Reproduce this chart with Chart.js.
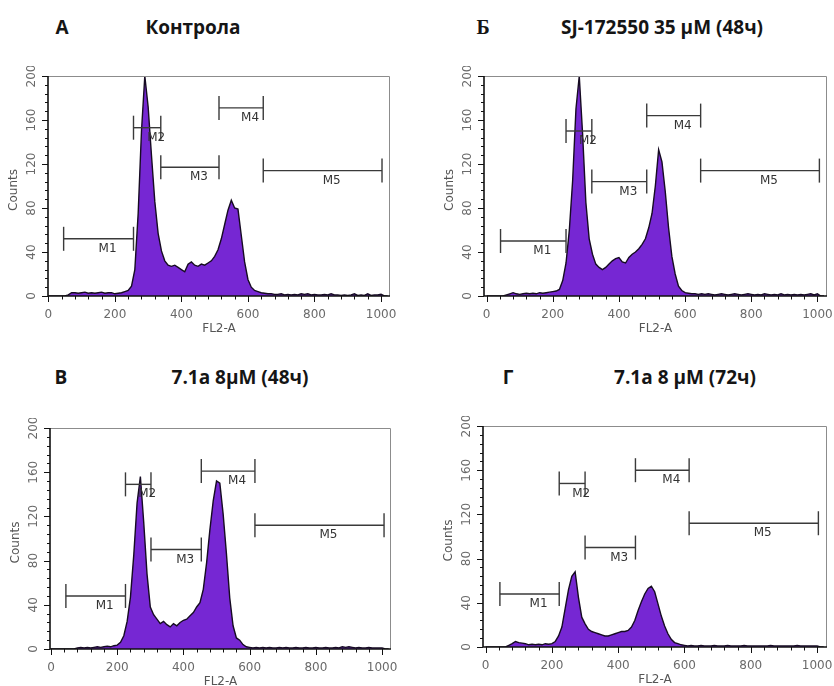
<!DOCTYPE html>
<html><head><meta charset="utf-8">
<script src="https://cdn.jsdelivr.net/npm/chart.js@4.4.0/dist/chart.umd.min.js"></script>
<style>
html,body{margin:0;padding:0;background:#fff;width:834px;height:686px;overflow:hidden;}
body{position:relative;}
canvas{position:absolute;}
.t{position:absolute;font-family:"Open Sans",sans-serif;font-weight:700;font-size:19px;color:#151515;transform:translate(-50%,-50%);white-space:nowrap;line-height:1;}
.serif{font-family:"Liberation Serif",serif;font-size:20px;}
</style></head><body>
<div class="t" style="left:62px;top:27px">А</div>
<div class="t" style="left:193px;top:27px">Контрола</div>
<div class="t serif" style="left:483px;top:27px">Б</div>
<div class="t" style="left:662px;top:27px">SJ-172550 35 μM (48ч)</div>
<div class="t" style="left:61px;top:377px">В</div>
<div class="t" style="left:240px;top:377px">7.1a 8μM (48ч)</div>
<div class="t" style="left:508px;top:377px">Г</div>
<div class="t" style="left:685px;top:377px">7.1a 8 μM (72ч)</div>
<canvas id="cA"></canvas><canvas id="cB"></canvas><canvas id="cC"></canvas><canvas id="cD"></canvas>
<script>
// FL2-A channels (x values)
const channels = [0,10,20,30,40,50,60,70,80,90,100,110,120,130,140,150,160,170,180,190,200,210,220,230,240,250,260,270,280,290,300,310,320,330,340,350,360,370,380,390,400,410,420,430,440,450,460,470,480,490,500,510,520,530,540,550,560,570,580,590,600,610,620,630,640,650,660,670,680,690,700,710,720,730,740,750,760,770,780,790,800,810,820,830,840,850,860,870,880,890,900,910,920,930,940,950,960,970,980,990,1000,1010,1020];

// Counts per panel
const countsA = [0,0,0,0,0,0,1,3,3,2.5,
 3,3.5,2.5,3,2.5,3,3.5,2.5,3,3,
 2,2.5,3,4,5,9,24,75,150,200,
 172,128,86,57,41,32,28,27,28,26,
 24,22,29,31,28,27,29,28,30,32,
 36,42,52,65,78,87,80,79,55,31,
 15,8,5,4,3,2.5,2,2,1.5,1.5,
 2,1,1.5,1,1.5,1,2,1.5,2,1,
 1.5,1,1,1.5,1,2,1,1,0.5,1,
 0.5,1,2,0.5,1,0.5,2,0.5,1,1,
 1.5,0,0];
const countsB = [0,0,0,0,0,0,1,2,3,2,
 1.5,2,2.5,2,2.5,2,3,2.5,3,3.5,
 4,4.5,6,14,30,60,105,170,200,148,
 85,52,38,29,26,24,26,29,32,34,
 35,31,30,35,38,40,43,47,52,62,
 75,100,133,122,95,62,36,20,9,5,
 3,2.5,2,2,1.5,2,1.5,2,1.5,1,
 1.5,2,1.5,1,1.5,2,1.5,1,1.5,2,
 1.5,1,1.5,1,2,1.5,1,1.5,1,2,
 1,1.5,1,1.5,1,1.5,1,1.5,2,1,
 2,0,0];
const countsC = [0,0,0,0,0,0,0,0,1,1.5,
 1,1.5,1,1.5,2,1.5,2,2.5,2,3,
 3.5,6,12,25,47,85,132,156,115,68,
 38,31,27,23,25,22,20,23,21,24,
 26,27,30,33,38,42,54,78,108,134,
 152,150,122,86,46,21,10,8,4,2,
 1.5,1,1.5,1,1.5,1,1.5,1,1,1.5,
 1,1.5,1,1,1.5,1,1,1.5,1,1,
 1.5,1,1,1.5,1,1,1.5,1,2,1.5,
 2,1.5,1,1.5,1,1,1.5,1,1,1,
 1,0,0];
const countsD = [0,0,0,0,0,0,0,1.5,3,5,
 4,3.5,3,2,2.5,2,2.5,2,3,2.5,
 3,5,10,18,35,52,64,68,45,27,
 21,16,14,13,12,11,10,10,11,12,
 13,14,14,15,18,24,33,41,48,53,
 55,50,39,28,19,12,7,4,3,2,
 1.5,1,1.5,1,1,1.5,1,1,1,1.5,
 1,1,1,1.5,1,1,1,1,1.5,1,
 1,1,1,1,1,1,1.5,1,1,1,
 1,1,1,1,1.5,1,1,1,1,1,
 1,0,0];

// Marker gates: [start channel, end channel, count level]
const markerNames = ['M1','M2','M3','M4','M5'];
const markersA = [[46,256,52],[256,338,153],[338,513,117],[513,646,171],[646,1003,114]];
const markersB = [[42,240,50],[240,318,150],[318,484,104],[484,647,164],[647,1006,114]];
const markersC = [[45,225,48],[225,302,149],[302,454,90],[454,616,161],[616,1006,112]];
const markersD = [[43,222,48],[222,300,148],[300,452,90],[452,614,160],[614,1004,112]];

const xTicks = [0,200,400,600,800,1000];
const yTicks = [0,40,80,120,160,200];
const xTitle = 'FL2-A';
const yTitle = 'Counts';

const decor = {
  id: 'decor',
  afterDraw(chart) {
    const {ctx, chartArea: a, scales: {x, y}} = chart;
    const markers = chart.options.plugins.decor.markers;
    const line = (x1, y1, x2, y2) => { ctx.beginPath(); ctx.moveTo(x1, y1); ctx.lineTo(x2, y2); ctx.stroke(); };
    ctx.save();
    // frame
    ctx.strokeStyle = '#8c8c8c'; ctx.lineWidth = 1;
    ctx.beginPath(); ctx.moveTo(a.left, a.top + 0.5); ctx.lineTo(a.right - 0.5, a.top + 0.5); ctx.lineTo(a.right - 0.5, a.bottom); ctx.stroke();
    ctx.strokeStyle = '#111'; ctx.lineWidth = 1.6;
    ctx.beginPath(); ctx.moveTo(a.left, a.top); ctx.lineTo(a.left, a.bottom); ctx.lineTo(a.right, a.bottom); ctx.stroke();
    // ticks
    ctx.lineWidth = 1;
    for (let v = 0; v <= 200; v += 8) {
      const py = Math.round(y.getPixelForValue(v)) + 0.5;
      const len = v % 40 === 0 ? 6 : 3;
      line(a.left - len, py, a.left, py);
    }
    for (let v = 0; v <= 1000; v += 40) {
      const px = Math.round(x.getPixelForValue(v)) + 0.5;
      const len = v % 200 === 0 ? 6 : 3.5;
      line(px, a.bottom, px, a.bottom + len);
    }
    // tick labels
    ctx.font = '12px "DejaVu Sans"'; ctx.fillStyle = '#6a6a6a';
    ctx.textAlign = 'center'; ctx.textBaseline = 'middle';
    yTicks.forEach(v => {
      ctx.save(); ctx.translate(a.left - 16, y.getPixelForValue(v)); ctx.rotate(-Math.PI / 2);
      ctx.fillText(String(v), 0, 0); ctx.restore();
    });
    xTicks.forEach(v => ctx.fillText(String(v), x.getPixelForValue(v), a.bottom + 19));
    ctx.fillStyle = '#555';
    ctx.fillText(xTitle, (a.left + a.right) / 2, a.bottom + 33);
    ctx.save(); ctx.translate(a.left - 34, (a.top + a.bottom) / 2 + 4); ctx.rotate(-Math.PI / 2);
    ctx.fillText(yTitle, 0, 0); ctx.restore();
    // markers
    ctx.strokeStyle = '#3a3a3a'; ctx.lineWidth = 1.4; ctx.fillStyle = '#333';
    ctx.textAlign = 'left';
    markers.forEach((m, i) => {
      const x1 = x.getPixelForValue(m[0]), x2 = x.getPixelForValue(m[1]), py = y.getPixelForValue(m[2]);
      line(x1, py, x2, py);
      line(x1, py - 12, x1, py + 12);
      line(x2, py - 12, x2, py + 12);
      ctx.fillText(markerNames[i], (x1 + x2) / 2, py + 10);
    });
    ctx.restore();
  }
};

function makePanel(id, counts, markers, area, xMin, xMax) {
  const cv = document.getElementById(id);
  const padL = 48, padT = 10, padR = 6, padB = 44;
  const W = area.r - area.l + padL + padR, H = area.b - area.t + padT + padB;
  cv.width = W; cv.height = H;
  cv.style.left = (area.l - padL) + 'px'; cv.style.top = (area.t - padT) + 'px';
  cv.style.width = W + 'px'; cv.style.height = H + 'px';
  new Chart(cv, {
    type: 'line',
    data: {
      labels: channels,
      datasets: [{
        data: channels.map((c, i) => ({x: c, y: counts[i]})),
        fill: 'origin',
        backgroundColor: '#7627d3',
        borderColor: '#160b22',
        borderWidth: 1.4,
        pointRadius: 0,
        tension: 0
      }]
    },
    options: {
      responsive: false, animation: false, devicePixelRatio: 1,
      layout: {padding: {left: 0, top: padT, right: padR, bottom: 0}},
      plugins: {legend: {display: false}, tooltip: {enabled: false}, decor: {markers}},
      scales: {
        x: {type: 'linear', min: xMin, max: xMax,
            ticks: {display: false}, grid: {display: false}, border: {display: false},
            afterFit: s => { s.height = padB; }},
        y: {type: 'linear', min: 0, max: 200,
            ticks: {display: false}, grid: {display: false}, border: {display: false},
            afterFit: s => { s.width = padL; }}
      }
    },
    plugins: [decor]
  });
}

makePanel('cA', countsA, markersA, {l: 48, r: 390, t: 76, b: 296}, -1, 1027);
makePanel('cB', countsB, markersB, {l: 484, r: 827, t: 76, b: 296}, -8, 1029);
makePanel('cC', countsC, markersC, {l: 50, r: 391, t: 428, b: 649}, -3, 1027);
makePanel('cD', countsD, markersD, {l: 483, r: 827, t: 426, b: 647}, -8, 1030);
</script>
</body></html>
